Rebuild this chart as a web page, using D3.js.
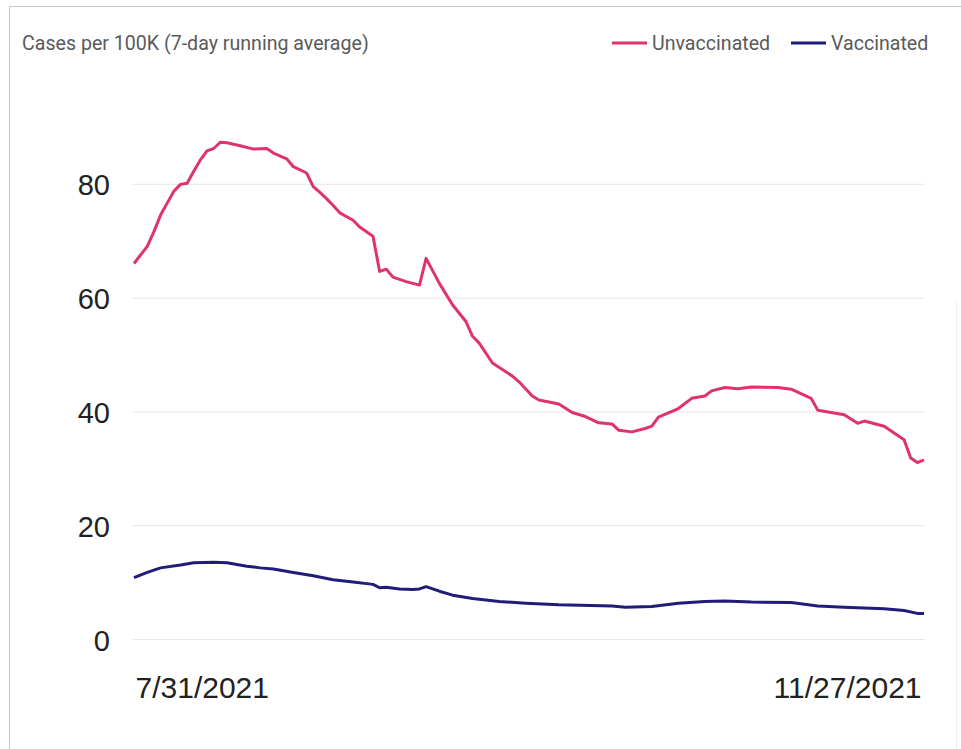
<!DOCTYPE html>
<html>
<head>
<meta charset="utf-8">
<script src="https://cdn.jsdelivr.net/npm/d3@7"></script>
<style>
  body { margin: 0; background: #fff; }
  svg { display: block; }
</style>
</head>
<body>
<div id="chart"></div>
<script>
// days counted from 7/31/2021
var startDate = new Date(2021, 6, 31)
var endDate = new Date(2021, 10, 27)

var unvaxDays = [0, 2, 3, 4, 5, 6, 7, 8, 9, 10, 11, 12, 13, 14, 16, 18, 20, 21, 23, 24, 26, 27, 28, 29, 30, 31, 33, 34, 36, 37, 38, 39, 41, 43, 44, 46, 48, 50, 51, 52, 54, 57, 58, 60, 61, 64, 66, 68, 70, 72, 73, 75, 77, 78, 79, 82, 84, 86, 87, 89, 91, 93, 97, 99, 102, 103, 107, 109, 110, 113, 116, 117, 118, 119]
var unvaxValues = [66.0, 69.0, 71.6, 74.5, 76.6, 78.7, 79.9, 80.1, 82.2, 84.2, 85.8, 86.2, 87.3, 87.2, 86.7, 86.1, 86.2, 85.4, 84.4, 83.0, 81.9, 79.5, 78.5, 77.4, 76.2, 74.9, 73.6, 72.4, 70.8, 64.6, 65.0, 63.6, 62.8, 62.2, 66.9, 62.5, 58.7, 55.8, 53.2, 52.0, 48.5, 46.2, 45.2, 42.7, 42.0, 41.3, 39.8, 39.1, 38.0, 37.8, 36.7, 36.4, 37.0, 37.4, 39.0, 40.5, 42.3, 42.7, 43.6, 44.2, 44.0, 44.3, 44.2, 43.9, 42.3, 40.2, 39.4, 37.9, 38.3, 37.4, 35.0, 31.8, 31.0, 31.5]

var vaxDays = [0, 2, 4, 7, 9, 12, 14, 17, 19, 21, 24, 27, 30, 33, 36, 37, 38, 40, 42, 43, 44, 46, 48, 51, 55, 59, 64, 72, 74, 78, 82, 86, 89, 93, 99, 103, 107, 113, 116, 118, 119]
var vaxValues = [10.8, 11.7, 12.5, 13.0, 13.4, 13.5, 13.4, 12.8, 12.5, 12.3, 11.7, 11.1, 10.4, 10.0, 9.6, 9.0, 9.1, 8.8, 8.7, 8.8, 9.2, 8.4, 7.7, 7.1, 6.6, 6.3, 6.0, 5.8, 5.6, 5.7, 6.3, 6.6, 6.7, 6.5, 6.4, 5.8, 5.6, 5.3, 5.0, 4.5, 4.5]

var yTicks = [0, 20, 40, 60, 80]
var seriesNames = ["Unvaccinated", "Vaccinated"]
var seriesColors = ["#e0336b", "#201c7a"]
var title = "Cases per 100K (7-day running average)"

var W = 961, H = 749
var margin = { top: 70, left: 134 },
    width = 790,
    height = 569

var svg = d3.select("#chart").append("svg")
    .attr("width", W)
    .attr("height", H)

// card border
svg.append("path")
    .attr("d", "M9.5," + H + "V6.5H" + W)
    .attr("fill", "none")
    .attr("stroke", "#c8c8c8")
svg.append("line")
    .attr("x1", 956.5).attr("x2", 956.5)
    .attr("y1", 300).attr("y2", H)
    .attr("stroke", "#eeeeee")

var g = svg.append("g")
    .attr("transform", "translate(" + margin.left + "," + margin.top + ")")

var x = d3.scaleTime()
    .domain([startDate, endDate])
    .range([0, width])

var y = d3.scaleLinear()
    .domain([0, 100])
    .range([height, 0])

// gridlines
g.append("g")
    .attr("transform", "translate(" + (width + 1) + ",0)")
    .call(d3.axisLeft(y).tickValues(yTicks).tickSize(width + 2).tickFormat(""))
    .call(function(a) { a.select(".domain").remove() })
    .selectAll("line")
    .attr("stroke", "#e6e6e6")

// y labels
g.append("g")
    .call(d3.axisLeft(y).tickValues(yTicks).tickSize(0).tickPadding(24))
    .call(function(a) { a.select(".domain").remove() })
    .selectAll("text")
    .attr("font-family", "Liberation Sans, Arial, sans-serif")
    .attr("font-size", 29)
    .attr("fill", "#222")
    .attr("dy", "0.38em")

// x labels
var xAxis = g.append("g")
    .attr("transform", "translate(0," + height + ")")
    .call(d3.axisBottom(x).tickValues([startDate, endDate]).tickSize(0).tickPadding(38)
        .tickFormat(d3.timeFormat("%-m/%-d/%Y")))
xAxis.select(".domain").remove()
xAxis.selectAll("text")
    .attr("font-family", "Liberation Sans, Arial, sans-serif")
    .attr("font-size", 30)
    .attr("fill", "#222")
    .attr("text-anchor", function(d, i) { return i == 0 ? "start" : "end" })
    .attr("dx", function(d, i) { return i == 0 ? 1 : -3 })

var line = d3.line()
    .x(function(d) { return x(d3.timeDay.offset(startDate, d[0])) })
    .y(function(d) { return y(d[1]) })

var series = [
    d3.zip(unvaxDays, unvaxValues),
    d3.zip(vaxDays, vaxValues)
]

g.selectAll(".series")
    .data(series)
    .enter()
    .append("path")
    .attr("class", "series")
    .attr("fill", "none")
    .attr("stroke", function(d, i) { return seriesColors[i] })
    .attr("stroke-width", 3)
    .attr("stroke-linejoin", "round")
    .attr("d", line)

// title
svg.append("text")
    .attr("x", 22)
    .attr("y", 50)
    .attr("font-family", "Roboto, sans-serif")
    .attr("font-size", 19.6)
    .attr("fill", "#5a5a5a")
    .text(title)

// legend
var legendX = [612, 791]
var legend = svg.selectAll(".legend")
    .data(seriesNames)
    .enter()
    .append("g")
    .attr("class", "legend")
    .attr("transform", function(d, i) { return "translate(" + legendX[i] + ",43)" })
legend.append("line")
    .attr("x1", 0).attr("x2", 35)
    .attr("stroke", function(d, i) { return seriesColors[i] })
    .attr("stroke-width", 3)
legend.append("text")
    .attr("x", 40)
    .attr("y", 7)
    .attr("font-family", "Roboto, sans-serif")
    .attr("font-size", 19.6)
    .attr("fill", "#5a5a5a")
    .text(function(d) { return d })
</script>
</body>
</html>
